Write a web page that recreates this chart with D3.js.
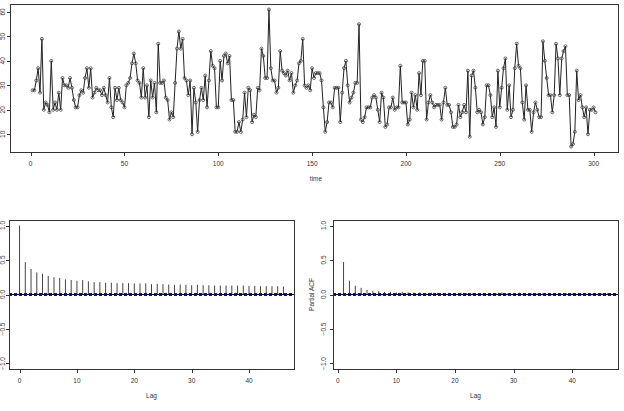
<!DOCTYPE html>
<html><head><meta charset="utf-8">
<script src="https://cdn.jsdelivr.net/npm/d3@7"></script>
<style>
html,body{margin:0;padding:0;background:#fff;}
svg text{font-family:"Liberation Sans",Arial,sans-serif;fill:#333;}
</style></head>
<body>
<script>
// ---------- data ----------
const seriesValues = [28,28,32,37,27,49,20,23,22,19,40,20,23,20,27,20,33,30,30,29,
33,29,24,21,21,26,28,27,33,37,29,37,25,27,29,28,28,26,29,26,
23,33,21,17,29,24,29,24,23,21,30,31,33,39,43,39,32,31,25,37,
25,30,17,32,25,31,19,47,31,31,32,25,24,16,19,17,31,45,52,45,
49,33,32,26,32,10,29,23,11,24,29,24,34,21,32,44,38,37,21,21,
40,32,42,43,39,42,24,24,11,11,15,11,16,27,17,29,28,15,18,17,
29,28,45,42,33,33,61,37,32,32,27,29,44,36,35,34,36,32,35,27,
30,32,39,40,49,30,29,30,28,37,33,35,35,35,32,21,11,15,23,23,
21,29,29,29,15,27,37,40,30,23,25,27,31,31,55,16,15,17,21,21,
21,25,26,25,20,15,27,25,13,14,21,21,25,20,21,21,38,23,23,23,
14,16,27,21,26,20,35,26,40,40,16,23,26,23,21,22,22,22,16,23,
29,22,22,19,13,13,14,22,17,19,22,19,36,9,34,36,29,19,20,19,
14,17,30,30,26,17,21,13,36,21,29,37,41,20,30,17,20,37,47,38,
37,23,16,30,20,20,11,19,23,20,17,17,48,40,33,26,26,19,26,47,
41,26,41,44,46,26,26,5,6,11,36,24,26,21,17,21,10,20,20,21,19];
const timeTicks = [0,50,100,150,200,250,300];
const valueTicks = [10,20,30,40,50,60];

const acfLags = d3.range(0,47);
const acfValues = [1.00,0.47,0.37,0.32,0.30,0.27,0.25,0.24,0.22,0.21,0.20,0.21,0.19,0.18,0.18,0.17,
0.17,0.165,0.165,0.165,0.16,0.16,0.16,0.15,0.155,0.15,0.145,0.14,0.145,0.14,0.135,0.14,
0.135,0.135,0.13,0.13,0.13,0.13,0.13,0.13,0.125,0.125,0.12,0.12,0.12,0.12,0.115];
const pacfLags = d3.range(1,47);
const pacfValues = [0.47,0.20,0.126,0.097,0.068,0.053,0.049,0.039,0.039,0.03,0.039,0.03,0.025,0.03,0.02,
0.025,0.025,0.02,0.025,0.02,0.025,0.018,0.015,0.015,0.015,0.015,0.015,0.03,0.015,0.015,
0.025,0.015,0.015,0.015,0.015,0.015,0.015,0.015,0.015,0.015,0.015,0.015,0.015,0.015,0.015,0.015];
const lagTicks = [0,10,20,30,40];
const corrTicks = [-1.0,-0.5,0.0,0.5,1.0];
const confBound = 0.012;

// ---------- drawing ----------
const W=624,H=411;
const svg=d3.select("body").append("svg").attr("width",W).attr("height",H);
const fs=6.5;

function ext(a,b){const r=b-a;return [a-0.04*r,b+0.04*r];}

function frame(x0,x1,y0,y1){
  svg.append("rect").attr("x",x0+0.5).attr("y",y0+0.5).attr("width",x1-x0).attr("height",y1-y0)
    .attr("fill","none").attr("stroke","#333").attr("stroke-width",1);
}
function xAxis(x,ticks,yb,fmt){
  const g=svg.append("g").attr("transform",`translate(0,${yb+0.5})`);
  g.append("line").attr("x1",x(ticks[0])).attr("x2",x(ticks[ticks.length-1])).attr("stroke","#333");
  ticks.forEach(t=>{
    g.append("line").attr("x1",Math.round(x(t))+0.5).attr("x2",Math.round(x(t))+0.5).attr("y1",0).attr("y2",3.5).attr("stroke","#333");
    g.append("text").attr("x",x(t)).attr("y",13).attr("text-anchor","middle").attr("font-size",fs).text(fmt(t));
  });
}
function yAxis(y,ticks,xl,fmt,labx){
  const g=svg.append("g").attr("transform",`translate(${xl+0.5},0)`);
  g.append("line").attr("y1",y(ticks[0])).attr("y2",y(ticks[ticks.length-1])).attr("stroke","#333");
  ticks.forEach(t=>{
    g.append("line").attr("y1",Math.round(y(t))+0.5).attr("y2",Math.round(y(t))+0.5).attr("x1",0).attr("x2",-3.5).attr("stroke","#333");
    g.append("text").attr("transform",`translate(${labx-xl},${y(t)}) rotate(-90)`).attr("text-anchor","middle").attr("font-size",fs).text(fmt(t));
  });
}

// Top panel: time series
{
  const x0=10,x1=618,y0=4,y1=152;
  const times=seriesValues.map((_,i)=>i+1);
  const x=d3.scaleLinear().domain(ext(1,times.length)).range([x0,x1]);
  const y=d3.scaleLinear().domain(ext(d3.min(seriesValues),d3.max(seriesValues))).range([y1,y0]);
  frame(x0,x1,y0,y1);
  const line=d3.line().x((d,i)=>x(times[i])).y(d=>y(d));
  svg.append("path").datum(seriesValues).attr("d",line).attr("fill","none").attr("stroke","#222").attr("stroke-width",1);
  svg.append("g").selectAll("circle").data(seriesValues).join("circle")
    .attr("cx",(d,i)=>x(times[i])).attr("cy",d=>y(d)).attr("r",1.5)
    .attr("fill","none").attr("stroke","#444").attr("stroke-width",0.8);
  xAxis(x,timeTicks,y1,d=>d);
  yAxis(y,valueTicks,x0,d=>d,4);
  svg.append("text").attr("x",(x0+x1)/2+2).attr("y",181).attr("text-anchor","middle").attr("font-size",fs).text("time");
}

function corrPanel(x0,x1,lags,vals,xdom,labelX,ylab,ylabX){
  const y0=220,y1=369;
  const x=d3.scaleLinear().domain(ext(xdom[0],xdom[1])).range([x0,x1]);
  const y=d3.scaleLinear().domain(ext(-1,1)).range([y1,y0]);
  frame(x0,x1,y0,y1);
  svg.append("g").selectAll("line").data(vals).join("line")
    .attr("x1",(d,i)=>x(lags[i])).attr("x2",(d,i)=>x(lags[i]))
    .attr("y1",y(0)).attr("y2",d=>y(d)).attr("stroke","#444").attr("stroke-width",1);
  svg.append("line").attr("x1",x0).attr("x2",x1).attr("y1",y(0)).attr("y2",y(0)).attr("stroke","#000");
  [confBound,-confBound].forEach(c=>{
    svg.append("line").attr("x1",x0).attr("x2",x1).attr("y1",y(c)).attr("y2",y(c))
      .attr("stroke","#0000ff").attr("stroke-width",1.2).attr("stroke-dasharray","3,2");
  });
  xAxis(x,lagTicks,y1,d=>d);
  yAxis(y,corrTicks,x0,d=>d3.format(".1f")(d).replace("-","\u2212"),labelX);
  svg.append("text").attr("x",(x0+x1)/2).attr("y",397.5).attr("text-anchor","middle").attr("font-size",fs).text("Lag");
  if(ylab){
    svg.append("text").attr("transform",`translate(${ylabX},${(y0+y1)/2}) rotate(-90)`).attr("text-anchor","middle").attr("font-size",fs).text(ylab);
  }
}
corrPanel(9,294,acfLags,acfValues,[0,46],4,null,0);
corrPanel(333,618,pacfLags,pacfValues,[1,46],325.5,"Partial ACF",313.5);
</script>
</body></html>
